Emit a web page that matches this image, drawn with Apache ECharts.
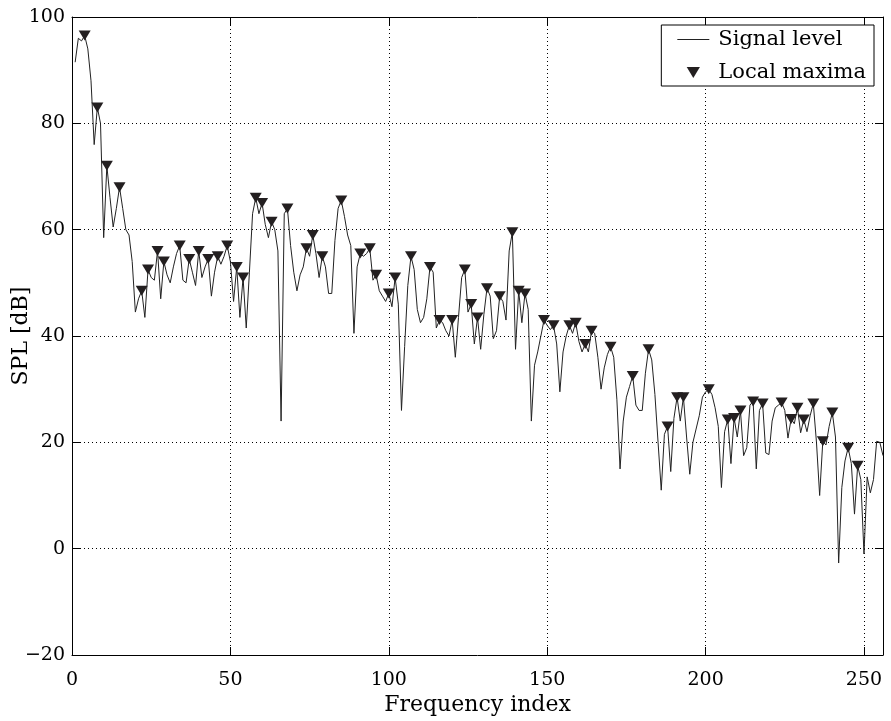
<!DOCTYPE html>
<html>
<head>
<meta charset="utf-8">
<script src="https://cdn.jsdelivr.net/npm/echarts@6/dist/echarts.min.js"></script>
<style>
  html, body { margin: 0; padding: 0; background: #fff; }
  #main { width: 891px; height: 721px; }
</style>
</head>
<body>
<div id="main"></div>
<script>
// signal level per frequency index (1..256)
const splLevels = [
  91.5, 96, 95.5, 96.5, 94, 88, 76, 83, 80, 58.5,
  72, 66, 60.5, 64, 68, 64, 60, 59, 54, 44.5,
  47, 48.5, 43.5, 52.5, 51, 50.5, 56, 47, 54, 51.5,
  50, 53, 55.5, 57, 50.5, 50, 54.5, 52, 49.5, 56,
  51, 53, 54.5, 47.5, 52, 55, 53.5, 55, 57, 54,
  46.5, 53, 43.5, 51, 41.5, 52, 63, 66, 63, 65,
  61, 58.5, 61.5, 60, 56, 24, 63, 64, 57, 52,
  48.5, 51.5, 53, 56.5, 55, 59, 55.5, 51, 55, 53,
  48, 48, 58, 64, 65.5, 62.5, 59, 57, 40.5, 53,
  55.5, 55, 55.5, 56.5, 50.5, 51.5, 48.5, 47.5, 46.5, 48,
  45.5, 51, 46, 26, 38, 49.5, 55, 52.5, 45, 42.5,
  43.5, 47, 53, 52, 41.5, 43, 42.5, 41, 40, 43,
  36, 43.5, 51, 52.5, 44.5, 46, 38.5, 43.5, 37.5, 44,
  49, 47.5, 39.5, 41, 47.5, 46.5, 43, 56, 59.5, 37.5,
  48.5, 42.5, 48, 45, 24, 34.5, 37, 40, 43, 42,
  41.2, 42, 38.5, 29.5, 37, 40, 42, 40.5, 42.5, 39,
  37, 38.5, 37, 41, 40.5, 36, 30, 34, 36.5, 38,
  36, 28, 15, 24, 28.5, 30.5, 32.5, 27, 26, 26,
  33, 37.5, 35.5, 29, 20, 11, 21.5, 23, 14.5, 24.5,
  28.5, 24, 28.5, 21, 14, 20, 22.5, 25, 28.5, 29.5,
  30, 29, 26.5, 23, 11.5, 22, 24.3, 16, 24.6, 21,
  26, 17.5, 19, 27, 27.7, 15, 26, 27.3, 18, 17.7,
  24, 26.5, 27, 27.5, 26, 20.8, 24.4, 23.5, 26.5, 21.8,
  24.3, 22, 25, 27.3, 20, 10, 20.2, 19.5, 23, 25.6,
  21, -2.7, 11.5, 16.5, 19, 16, 6.5, 15.6, 13, -1,
  13.5, 10.5, 13, 20.2, 20, 17.5
]

// frequency indices marked as local maxima
const peakIndex = [
  4, 8, 11, 15, 22, 24, 27, 29, 34, 37, 40, 43, 46, 49, 52, 54,
  58, 60, 63, 68, 74, 76, 79, 85, 91, 94, 96, 100, 102, 107, 113,
  116, 120, 124, 126, 128, 131, 135, 139, 141, 143, 149, 152, 157,
  159, 162, 164, 170, 177, 182, 188, 191, 193, 201, 207, 209, 211,
  215, 218, 224, 227, 229, 231, 234, 237, 240, 245, 248
]

const xTicks = [0, 50, 100, 150, 200, 250]
const yTicks = [-20, 0, 20, 40, 60, 80, 100]

const signalData = splLevels.map((v, i) => [i + 1, v])
const peakData = peakIndex.map(k => [k, splLevels[k - 1]])

const chart = echarts.init(document.getElementById('main'))

const serifFont = 'DejaVu Serif'
const gridLine = { show: true, lineStyle: { color: '#000', type: [1, 3], width: 1 } }
const frame = { show: true, onZero: false, lineStyle: { color: '#000', width: 1 } }
const tickIn = { show: true, inside: true, length: 8, lineStyle: { color: '#000' } }
const triangle = 'path://M0,0L12,0L6,10Z'

chart.setOption({
  animation: false,
  backgroundColor: '#fff',
  grid: { left: 72, top: 17, width: 811, height: 638, outerBoundsMode: 'none', containLabel: false },
  xAxis: [{
    type: 'value', min: 0, max: 256, interval: 50, position: 'bottom',
    name: 'Frequency index', nameLocation: 'middle', nameGap: 39, nameMoveOverlap: false,
    nameTextStyle: { fontFamily: serifFont, fontSize: 22, color: '#000' },
    axisLine: frame, axisTick: tickIn, splitLine: gridLine,
    axisLabel: {
      margin: 16, fontFamily: serifFont, fontSize: 19, color: '#000',
      formatter: v => (xTicks.includes(v) ? String(v) : '')
    }
  }, {
    type: 'value', min: 0, max: 256, interval: 50, position: 'top',
    axisLine: frame, axisTick: tickIn, splitLine: { show: false },
    axisLabel: { show: false }
  }],
  yAxis: [{
    type: 'value', min: -20, max: 100, interval: 20, position: 'left',
    name: 'SPL [dB]', nameLocation: 'middle', nameGap: 40, nameMoveOverlap: false,
    nameTextStyle: { fontFamily: serifFont, fontSize: 22, color: '#000' },
    axisLine: frame, axisTick: tickIn, splitLine: gridLine,
    axisLabel: {
      margin: 7, fontFamily: serifFont, fontSize: 19, color: '#000',
      formatter: v => (yTicks.includes(v) ? (v < 0 ? '\u2212' + (-v) : String(v)) : '')
    }
  }, {
    type: 'value', min: -20, max: 100, interval: 20, position: 'right',
    axisLine: frame, axisTick: tickIn, splitLine: { show: false },
    axisLabel: { show: false }
  }],
  legend: {
    orient: 'vertical', right: 17, top: 25,
    backgroundColor: '#fff', borderColor: '#000', borderWidth: 1,
    padding: [4, 8, 3, 16], itemGap: 12, itemWidth: 32, itemHeight: 11,
    symbolKeepAspect: true,
    textStyle: { fontFamily: serifFont, fontSize: 21, color: '#000', padding: [0, 0, 0, 4] },
    data: [
      { name: 'Signal level', icon: 'path://M0,0H32V1H0Z' },
      { name: 'Local maxima', icon: triangle }
    ]
  },
  series: [{
    name: 'Signal level', type: 'line', data: signalData,
    symbol: 'none', lineStyle: { color: '#222', width: 1 },
    itemStyle: { color: '#222' }, z: 2
  }, {
    name: 'Local maxima', type: 'scatter', data: peakData,
    symbol: triangle, symbolSize: [12, 10],
    itemStyle: { color: '#231f20', opacity: 1 }, z: 3
  }]
})
</script>
</body>
</html>
